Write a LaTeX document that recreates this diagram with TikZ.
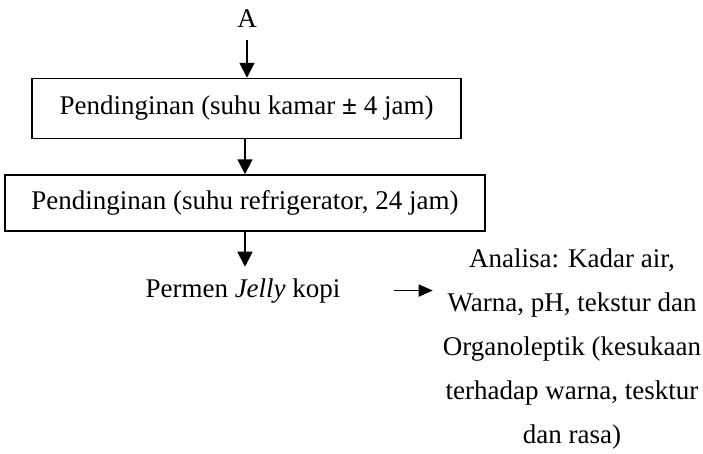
\documentclass[tikz,border=0pt]{standalone}
\usepackage{fontspec}
\setmainfont{Liberation Serif}
\usetikzlibrary{arrows.meta}
\begin{document}
\begin{tikzpicture}[x=1pt,y=-1pt,
  txt/.style={font=\fontsize{27}{44}\selectfont},
  procbox/.style={draw,line width=1.5pt,txt,inner sep=0pt},
  downarr/.style={line width=1.8pt,-{Triangle[width=15pt,length=15pt]}},
  rightarr/.style={line width=1.8pt,-{Triangle[width=12pt,length=14pt]}}]
\useasboundingbox (0,0) rectangle (703,453);
\node[txt,anchor=base] (A) at (247,27) {A};
\node[procbox,minimum width=429pt,minimum height=60pt] (box1) at (246.5,108.5)
  {Pendinginan (suhu kamar \textbf{±} 4 jam)};
\node[procbox,minimum width=480pt,minimum height=56pt] (box2) at (245,203)
  {Pendinginan (suhu refrigerator, 24 jam)};
\node[txt,anchor=base] (perm) at (243,297) {Permen \textit{Jelly} kopi};
\node[txt,align=center,anchor=north,inner sep=0pt] (anal) at (572,249)
  {Analisa: Kadar air,\\ Warna, pH, tekstur dan\\ Organoleptik (kesukaan\\ terhadap warna, tesktur\\ dan rasa)};
\draw[downarr,shorten <=9pt] (A.south -| 247,0) -- (box1.north -| 247,0);
\draw[downarr] (box1.south -| 245,0) -- (box2.north -| 245,0);
\draw[downarr] (box2.south -| 245,0) -- (perm.north -| 245,0) [shorten >=8pt];
\draw[rightarr,shorten <=50pt,shorten >=10pt] (perm.east) -- (perm.east -| anal.west);
\end{tikzpicture}
\end{document}
